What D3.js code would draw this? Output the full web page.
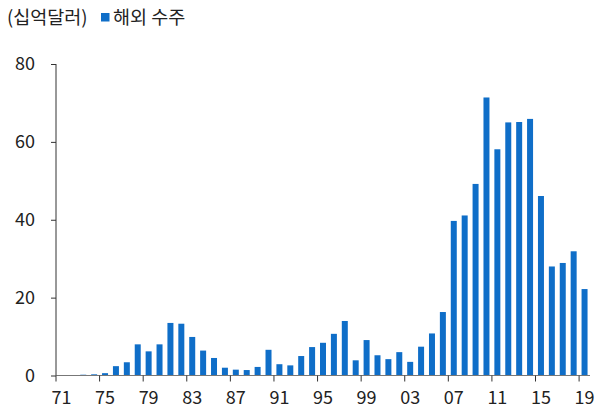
<!DOCTYPE html>
<html>
<head>
<meta charset="utf-8">
<script src="https://cdn.jsdelivr.net/npm/d3@7"></script>
<style>
    body { margin: 0; background: #fff; }
    text { font-family: "Noto Sans CJK KR", "Noto Sans", sans-serif; fill: #222; }
</style>
</head>
<body>
<div id="chart"></div>
<script>
'use strict';

// overseas construction orders, billion USD, 1971-2019
var years = d3.range(1971, 2020);
var orders = [0.1, 0.1, 0.2, 0.3, 0.6, 2.4, 3.4, 8.0, 6.2, 8.0,
    13.5, 13.3, 9.9, 6.4, 4.5, 2.0, 1.5, 1.4, 2.2, 6.6,
    2.9, 2.6, 5.0, 7.3, 8.4, 10.7, 14.0, 3.9, 9.1, 5.2,
    4.2, 6.0, 3.5, 7.4, 10.8, 16.3, 39.7, 41.1, 49.2, 71.4,
    58.1, 65.0, 65.1, 65.9, 46.1, 28.0, 28.9, 31.9, 22.2];
var yTicks = [0, 20, 40, 60, 80];
var unitLabel = '(십억달러)';
var seriesName = '해외 수주';

var width = 598,
    height = 409,
    color = '#0f6ec8',
    margin = {
        top: 64,
        right: 590,
        bottom: 375.5,
        left: 56
    };

var svg = d3.select('#chart').append('svg')
    .attr('width', width)
    .attr('height', height);

var x = d3.scaleBand()
    .domain(years)
    .range([margin.left, margin.right])
    .paddingInner(0.45)
    .paddingOuter(0.225);

var y = d3.scaleLinear()
    .domain([0, 80])
    .range([margin.bottom, margin.top]);

//Draw the bars
svg.append('g')
    .selectAll('rect')
    .data(orders)
    .enter().append('rect')
    .attr('x', function(d, i) { return x(years[i]); })
    .attr('y', function(d) { return y(d); })
    .attr('width', x.bandwidth())
    .attr('height', function(d) { return y(0) - y(d); })
    .attr('fill', color);

//Y axis
var yAxis = svg.append('g')
    .attr('transform', 'translate(' + margin.left + ',0)')
    .call(d3.axisLeft(y).tickValues(yTicks).tickSize(5).tickPadding(16));
yAxis.select('.domain').attr('stroke', '#333').attr('d', 'M0,' + margin.top + 'V' + margin.bottom);
yAxis.selectAll('.tick line').attr('stroke', '#333');
yAxis.selectAll('.tick text')
    .style('font-size', '18px')
    .attr('fill', '#222');

//X axis: ticks sit between categories, every 4 years
var step = x.step();
var xAxis = svg.append('g')
    .attr('transform', 'translate(0,' + margin.bottom + ')');
xAxis.append('line')
    .attr('x1', margin.left)
    .attr('x2', margin.right)
    .attr('stroke', '#777')
    .attr('stroke-width', 1.2);
var labelYears = years.filter(function(d) { return (d - 1971) % 4 === 0; });
xAxis.selectAll('.xtick')
    .data(labelYears)
    .enter().append('line')
    .attr('class', 'xtick')
    .attr('x1', function(d) { return x(d) - (step - x.bandwidth()) / 2; })
    .attr('x2', function(d) { return x(d) - (step - x.bandwidth()) / 2; })
    .attr('y1', 0)
    .attr('y2', 6)
    .attr('stroke', '#333');
xAxis.selectAll('.xlabel')
    .data(labelYears)
    .enter().append('text')
    .attr('class', 'xlabel')
    .attr('x', function(d) { return x(d) + x.bandwidth() / 2; })
    .attr('y', 28)
    .attr('text-anchor', 'middle')
    .style('font-size', '18px')
    .text(function(d) { return String(d % 100).padStart(2, '0'); });

//Unit label and legend
svg.append('text')
    .attr('x', 7)
    .attr('y', 24)
    .style('font-size', '18.5px')
    .text(unitLabel);
svg.append('rect')
    .attr('x', 101)
    .attr('y', 13)
    .attr('width', 8.5)
    .attr('height', 8.5)
    .attr('fill', color);
svg.append('text')
    .attr('x', 113)
    .attr('y', 24)
    .style('font-size', '18.5px')
    .text(seriesName);
</script>
</body>
</html>
